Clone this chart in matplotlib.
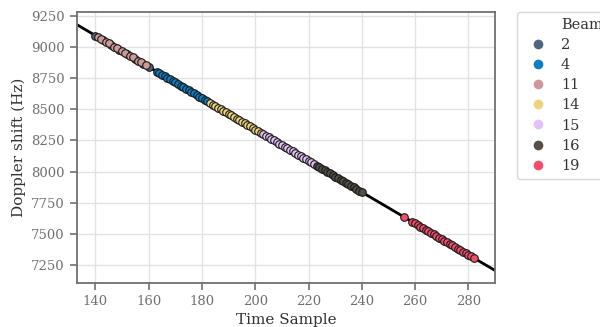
import numpy as np
import matplotlib
matplotlib.use("Agg")
import matplotlib.pyplot as plt
from matplotlib.lines import Line2D

plt.rcParams['font.family'] = ['DejaVu Serif']

# time sample / doppler shift per beam
beams = ["2", "4", "11", "14", "15", "16", "19"]
colors = ["#4c6580", "#0b7ec6", "#cc9a98", "#edd57d", "#e3c2f7", "#545045", "#f24d6b"]

t_2 = [140, 143, 146, 149, 152, 155, 158, 160]
d_2 = [9093, 9056, 9018, 8980, 8942, 8905, 8867, 8842]
t_11 = [141, 142, 144, 145, 147, 148, 150, 151, 153, 154, 156, 157, 159]
d_11 = [9081, 9068, 9043, 9030, 9005, 8993, 8968, 8955, 8930, 8917, 8892, 8879, 8854]
t_4 = [163, 164, 165, 166, 167, 168, 169, 170, 171, 172,
       173, 174, 175, 176, 177, 178, 179, 180, 181, 182]
d_4 = [8804, 8791, 8779, 8766, 8753, 8741, 8728, 8716, 8703, 8691,
       8678, 8665, 8653, 8640, 8628, 8615, 8602, 8590, 8577, 8565]
t_14 = [183, 184, 185, 186, 187, 188, 189, 190, 191, 192,
        193, 194, 195, 196, 197, 198, 199, 200, 201, 202]
d_14 = [8552, 8539, 8527, 8514, 8502, 8489, 8476, 8464, 8451, 8439,
        8426, 8414, 8401, 8388, 8376, 8363, 8351, 8338, 8325, 8313]
t_15 = [203, 204, 205, 206, 207, 208, 209, 210, 211, 212,
        213, 214, 215, 216, 217, 218, 219, 220, 221, 222]
d_15 = [8300, 8288, 8275, 8262, 8250, 8237, 8225, 8212, 8199, 8187,
        8174, 8162, 8149, 8137, 8124, 8111, 8099, 8086, 8074, 8061]
t_16 = [223, 224, 225, 226, 227, 228, 229, 230, 231,
        232, 233, 234, 235, 236, 237, 238, 239, 240]
d_16 = [8048, 8036, 8023, 8011, 7998, 7985, 7973, 7960, 7948,
        7935, 7923, 7910, 7897, 7885, 7872, 7860, 7847, 7834]
t_19 = [256, 259, 260, 261, 262, 263, 264, 265, 266, 267, 268, 269, 270,
        271, 272, 273, 274, 275, 276, 277, 278, 279, 280, 281, 282]
d_19 = [7633, 7595, 7583, 7570, 7557, 7545, 7532, 7520, 7507, 7494, 7482, 7469, 7457,
        7444, 7432, 7419, 7406, 7394, 7381, 7369, 7356, 7343, 7331, 7318, 7306]

series = {"2": (t_2, d_2), "4": (t_4, d_4), "11": (t_11, d_11), "14": (t_14, d_14),
          "15": (t_15, d_15), "16": (t_16, d_16), "19": (t_19, d_19)}

fig = plt.figure(figsize=(6, 3.27), dpi=100)
ax = fig.add_axes([0.128, 0.135, 0.697, 0.828])

# linear fit through all points
all_t = np.concatenate([series[b][0] for b in beams])
all_d = np.concatenate([series[b][1] for b in beams])
k, b0 = np.polyfit(all_t, all_d, 1)
xl = np.array([133, 290])
ax.plot(xl, k * xl + b0, color="black", lw=2, zorder=2)

handles = [Line2D([], [], linestyle="none")]
labels = ["Beam"]
for name, c in zip(beams, colors):
    t, d = series[name]
    ax.scatter(t, d, s=30, color=c, edgecolor="#1a1a1a", linewidth=0.8, zorder=3)
    handles.append(Line2D([], [], marker="o", linestyle="none", markersize=7,
                          markerfacecolor=c, markeredgecolor="none"))
    labels.append(name)

ax.set_xlim(133, 290)
ax.set_ylim(7105, 9282)
ax.set_xticks([140, 160, 180, 200, 220, 240, 260, 280])
ax.set_yticks([7250, 7500, 7750, 8000, 8250, 8500, 8750, 9000, 9250])
ax.grid(True, color="#e2e2e2", lw=1)
ax.set_axisbelow(True)
for s in ax.spines.values():
    s.set_color("#707070")
    s.set_linewidth(1.3)
ax.tick_params(colors="#707070", labelcolor="#707070", labelsize=9.5, length=5, width=1.2)
ax.set_xlabel("Time Sample", fontsize=11, color="#333333")
ax.set_ylabel("Doppler shift (Hz)", fontsize=11, color="#333333")

leg = ax.legend(handles, labels, loc="upper left", bbox_to_anchor=(1.053, 1),
                borderaxespad=0, fontsize=10.5, frameon=True, handletextpad=0.6,
                labelspacing=0.42, labelcolor="#333333")
leg.get_frame().set_edgecolor("#cccccc")

fig.savefig("out.png", dpi=100)
